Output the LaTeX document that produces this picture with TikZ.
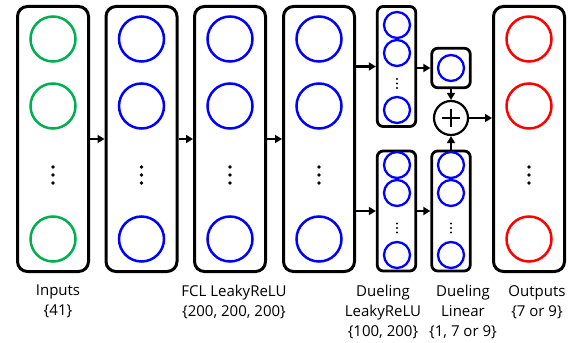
\documentclass[tikz,border=0pt]{standalone}
\usepackage{fontspec}
\setmainfont{Open Sans}
\usetikzlibrary{arrows.meta}
\definecolor{ingreen}{RGB}{0,176,80}

\begin{document}
\begin{tikzpicture}[x=1pt,y=-1pt,
    layer/.style={draw,line width=3pt,rounded corners=10pt,minimum width=71pt,minimum height=265pt,inner sep=0pt},
    sublayer/.style={draw,line width=2.8pt,rounded corners=6pt,minimum width=38.5pt,minimum height=120pt,inner sep=0pt},
    neuron/.style={circle,draw,line width=2.5pt,minimum size=45pt,inner sep=0pt},
    subneuron/.style={circle,draw=blue,line width=2.3pt,minimum size=26pt,inner sep=0pt},
    link/.style={line width=2.2pt,-{Triangle[length=7pt,width=8pt]}},
    caption/.style={align=center,anchor=north,inner sep=0pt,font=\fontsize{15}{20}\selectfont}]
    \useasboundingbox (0,0) rectangle (577,342);

    % full layers
    \foreach \n/\x/\c in {in/53/ingreen,h1/141.5/blue,h2/230/blue,h3/319/blue,out/529/red}{
        \node[layer] (\n) at (\x,139) {};
        \foreach \k/\y in {1/39,2/106,3/239}
            \node[neuron,draw=\c] (\n\k) at (\x,\y) {};
        \foreach \y in {167,175,183}
            \fill (\x,\y) circle (1.8pt);
    }

    % dueling layers
    \node[sublayer] (dueu) at (396.5,66.5) {};
    \node[sublayer] (duel) at (396.5,211) {};
    \node[sublayer,minimum height=39.5pt] (linu) at (451,68) {};
    \node[sublayer] (linl) at (451,211) {};
    \foreach \k/\y in {1/25,2/53,3/110}
        \node[subneuron] (dueu\k) at (397,\y) {};
    \foreach \y in {79,83.5,88}
        \fill (397,\y) circle (1.1pt);
    \foreach \n/\x in {duel/397,linl/451}{
        \foreach \k/\y in {1/165,2/193,3/255}
            \node[subneuron] (\n\k) at (\x,\y) {};
        \foreach \y in {223.5,228,232.5}
            \fill (\x,\y) circle (1.1pt);
    }
    \node[subneuron] (linu1) at (451,68) {};

    \node[circle,draw,line width=2.2pt,minimum size=34pt,inner sep=0pt] (plus) at (451,118) {};
    \draw[line width=2.6pt] ([xshift=-9pt]plus.center) -- ([xshift=9pt]plus.center)
        ([yshift=-9pt]plus.center) -- ([yshift=9pt]plus.center);

    % connections
    \draw[link] (in) -- (h1);
    \draw[link] (h1) -- (h2);
    \draw[link] (h2) -- (h3);
    \draw[link] (h3.east |- dueu.west) -- (dueu.west);
    \draw[link] (h3.east |- duel.west) -- (duel.west);
    \draw[link] (dueu.east |- linu.west) -- (linu.west);
    \draw[link] (duel) -- (linl);
    \draw[link] (linu) -- (plus);
    \draw[link] (linl) -- (plus);
    \draw[link] (plus) -- (out.west |- plus.east);

    % captions
    \node[caption] (capin) at (58,285) {Inputs\\\{41\}};
    \node[caption] (caph) at (234,285) {FCL LeakyReLU\\\{200, 200, 200\}};
    \node[caption] (capdue) at (383,285) {Dueling\\LeakyReLU\\\{100, 200\}};
    \node[caption] (caplin) at (463,285) {Dueling\\Linear\\\{1, 7 or 9\}};
    \node[caption] (capout) at (537,285) {Outputs\\\{7 or 9\}};
\end{tikzpicture}
\end{document}
